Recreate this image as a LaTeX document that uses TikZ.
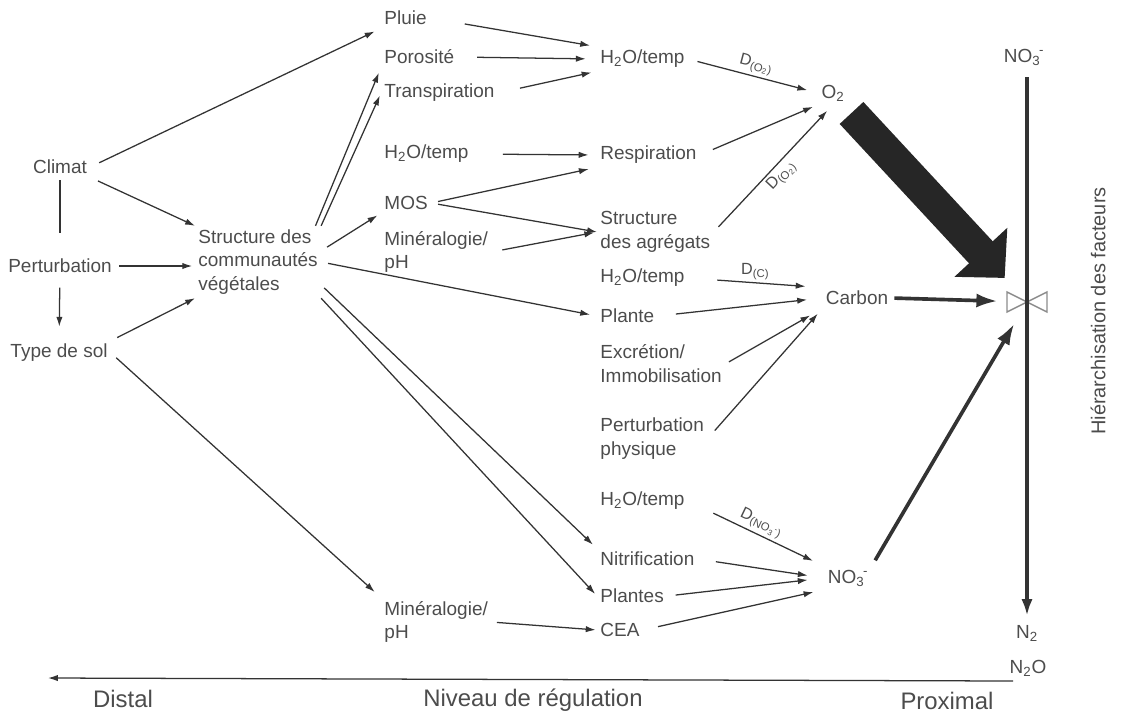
\documentclass[tikz,border=0pt]{standalone}
\usepackage{fontspec}
\setmainfont{Liberation Sans}
\usetikzlibrary{arrows.meta}
\definecolor{texte}{gray}{0.3}
\definecolor{trait}{gray}{0.2}
\newcommand{\hdeux}{H\textsubscript{2}O/temp}
\newcommand{\nitrate}{NO\textsubscript{3}\kern-1pt\textsuperscript{-}}
\begin{document}
\begin{tikzpicture}[x=0.025cm, y=-0.025cm, line width=0.9pt, color=trait,
  >={Latex[length=7pt,width=4.5pt]},
  every node/.style={font=\fontsize{13.5}{17}\selectfont, text=texte, inner sep=2pt},
  bloc/.style={align=left},
  coef/.style={font=\fontsize{11.5}{13}\selectfont, inner sep=2pt},
  epais/.style={line width=2.6pt, -{Latex[length=15pt,width=10pt]}},
  bas/.style={font=\fontsize{17}{20}\selectfont}]

	\useasboundingbox (0,0) rectangle (1142,713);

	% facteurs distaux
	\node (climat) at (60,167) {Climat};
	\node (perturb) at (60,266) {Perturbation};
	\node (typesol) at (59,353) {Type de sol};
	\node [right, bloc] (scd) at (195,262) {Structure des\\communautés\\végétales};

	\node [right] (pluie) at (381,18) {Pluie};
	\node [right] (porosite) at (381,57) {Porosité};
	\node [right] (transp) at (381,93) {Transpiration};
	\node [right] (heau1) at (381,154) {\hdeux};
	\node [right] (mos) at (381,203) {MOS};
	\node [right, bloc] (minph1) at (381,252) {Minéralogie/\\pH};
	\node [right, bloc] (minph2) at (381,622) {Minéralogie/\\pH};

	% facteurs proximaux
	\node [right] (heau2) at (597,59) {\hdeux};
	\node [right] (resp) at (597,155) {Respiration};
	\node [right, bloc] (sagreg) at (597,232) {Structure\\des agrégats};
	\node [right] (heau3) at (597,278) {\hdeux};
	\node [right] (plante) at (597,316) {Plante};
	\node [right, bloc] (excr) at (597,364) {Excrétion/\\Immobilisation};
	\node [right, bloc] (pertphys) at (597,439) {Perturbation\\physique};
	\node [right] (heau4) at (597,501) {\hdeux};
	\node [right] (nitrif) at (597,559) {Nitrification};
	\node [right] (plantes) at (597,596) {Plantes};
	\node [right] (cea) at (597,630) {CEA};

	\node (otwo) at (833,93) {O\textsubscript{2}};
	\node (carbon) at (857,298) {Carbon};
	\node (nothree) at (848,578) {\nitrate};

	\node (nothreetop) at (1024,57) {\nitrate};
	\node (ntwo) at (1027,633) {N\textsubscript{2}};
	\node (ntwoo) at (1028,668) {N\textsubscript{2}O};
	\coordinate (vanne) at (1027,302);
	\node [rotate=90, font=\fontsize{14.2}{17}\selectfont] (hier) at (1098,311) {Hiérarchisation des facteurs};

	\draw [->, shorten <=7pt, shorten >=5pt] (climat.east) -- (pluie.south west);
	\draw [->, shorten <=6pt] (climat.south east) -- (scd.north west);
	\draw [shorten <=2pt, shorten >=16pt] (climat) -- (perturb);
	\draw [->, shorten <=8pt, shorten >=10pt] (perturb) -- (typesol);
	\draw [->, shorten <=3pt, shorten >=2pt] (perturb.east) -- (perturb -| scd.west);
	\draw [->, shorten <=5pt] (typesol.north east) -- (scd.south west);
	\draw [->, shorten <=5pt, shorten >=6pt] (typesol.east) -- (minph2.north west);

	\draw [->, shorten >=4pt] ([xshift=-4pt]scd.north east) -- (porosite.south west);
	\draw [->, shorten >=2pt] (scd.north east) -- (transp.west);
	\draw [->, shorten <=5pt, shorten >=3pt] (scd.10) -- (mos.south west);
	\draw [->, shorten <=5pt, shorten >=5pt] (scd.east) -- (plante.west);
	\draw [->, shorten <=3pt, shorten >=4pt] (scd.-20) -- (nitrif.north west);
	\draw [->, shorten >=2pt] (scd.south east) -- (plantes.west);

	\draw [->, shorten <=25pt, shorten >=5pt] (pluie.east) -- (heau2.north west);
	\draw [->, shorten <=14pt, shorten >=8pt] (porosite.east) -- (heau2.west);
	\draw [->, shorten <=16pt, shorten >=4pt] (transp.east) -- (heau2.south west);
	\draw [->, shorten <=22pt, shorten >=6pt] (heau1.east) -- (resp.west);
	\draw [->, shorten <=5pt, shorten >=6pt] (mos.east) -- (resp.south west);
	\draw [->, shorten <=5pt] (mos.east) -- (sagreg.west);
	\draw [->, shorten <=8pt, shorten >=2pt] (minph1.east) -- (sagreg.west);
	\draw [->, shorten <=4pt, shorten >=1pt] (minph2.east) -- (cea.west);

	% vers O2, C et NO3
	\draw [->, shorten <=7pt, shorten >=8pt] (heau2.east) -- (otwo.west)
		node [midway, above, sloped, coef] {D\textsubscript{(O\textsubscript{2})}};
	\draw [->, shorten <=10pt, shorten >=4pt] (resp.east) -- (otwo.south west);
	\draw [->, shorten <=5pt, shorten >=6pt] (sagreg.east) -- (otwo.south)
		node [midway, below, sloped, coef] {D\textsubscript{(O\textsubscript{2})}};
	\draw [->, shorten <=21pt, shorten >=12pt] (heau3.east) -- (carbon.north west)
		node [midway, above, coef] {D\textsubscript{(C)}};
	\draw [->, shorten <=13pt, shorten >=11pt] (plante.east) -- (carbon.west);
	\draw [->, shorten <=3pt, shorten >=10pt] (excr.east) -- (carbon.south west);
	\draw [->, shorten <=8pt, shorten >=5pt] (pertphys.east) -- (carbon.south west);
	\draw [->, shorten <=20pt, shorten >=9pt] (heau4.east) -- (nothree.north west)
		node [midway, above, sloped, coef] {D\textsubscript{(NO\textsubscript{3}\textsuperscript{-})}};
	\draw [->, shorten <=13pt, shorten >=12pt] (nitrif.east) -- (nothree.west);
	\draw [->, shorten <=6pt, shorten >=12pt] (plantes.east) -- (nothree.west);
	\draw [->, shorten <=11pt, shorten >=8pt] (cea.east) -- (nothree.south west);

	% vanne
	\draw [black!45, line width=1pt, line join=miter] (vanne) -- ++(-20,-10) -- ++(0,20) -- cycle
		(vanne) -- ++(20,-10) -- ++(0,20) -- cycle;
	\draw [line width=23pt, black!85, -{Triangle[length=0.875cm 0, width=1.75cm 0]},
		shorten <=0.68cm, shorten >=0.82cm] (otwo.center) -- (vanne);
	\draw [epais, shorten <=2pt, shorten >=21pt] (carbon.east) -- (vanne);
	\draw [epais, shorten <=5pt, shorten >=18pt] (nothree.north east) -- (vanne);
	\draw [line width=2.6pt, -{Latex[length=12pt,width=8pt]}, shorten <=6pt, shorten >=4pt]
		(nothreetop.south -| vanne) -- (ntwo.north -| vanne);

	% axe
	\coordinate (gauche) at (48,678);
	\coordinate (droite) at (1013,681);
	\draw [<-] (gauche) -- (droite);
	\node [bas] (distal) at (123,699) {Distal};
	\node [bas] (niveau) at (533,700) {Niveau de régulation};
	\node [bas] (proximal) at (947,701) {Proximal};

\end{tikzpicture}
\end{document}
